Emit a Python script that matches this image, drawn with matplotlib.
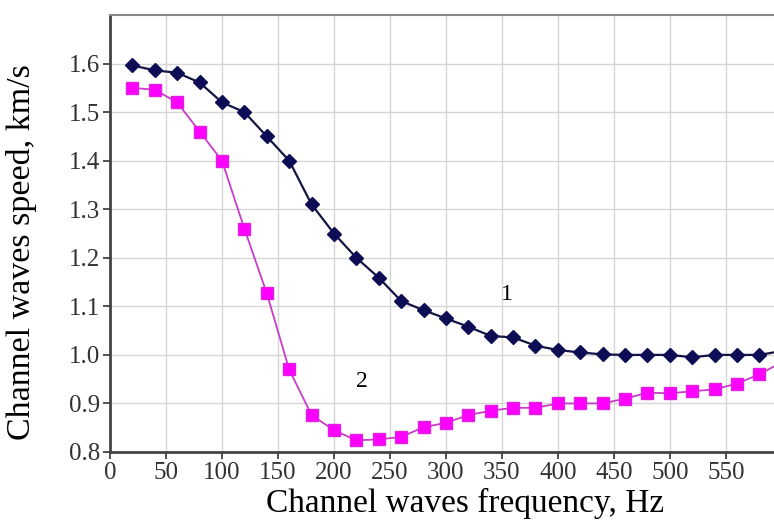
import numpy as np
import matplotlib
matplotlib.use('Agg')
import matplotlib.pyplot as plt

# frequency, Hz
freq = [20, 40, 60, 80, 100, 120, 140, 160, 180, 200, 220, 240, 260, 280, 300,
        320, 340, 360, 380, 400, 420, 440, 460, 480, 500, 520, 540, 560, 580, 600]

# curve 1 (dark diamonds)
speed_1 = [1.596, 1.586, 1.581, 1.561, 1.52, 1.50, 1.45, 1.40, 1.31, 1.25,
           1.20, 1.159, 1.111, 1.092, 1.075, 1.058, 1.039, 1.036, 1.019, 1.01,
           1.005, 1.001, 1.0, 1.0, 1.0, 0.995, 1.0, 1.0, 1.0, 1.008]

# curve 2 (magenta squares)
speed_2 = [1.55, 1.546, 1.52, 1.46, 1.40, 1.26, 1.127, 0.97, 0.876, 0.845,
           0.824, 0.826, 0.831, 0.851, 0.86, 0.876, 0.885, 0.891, 0.891, 0.9,
           0.9, 0.9, 0.91, 0.922, 0.921, 0.925, 0.929, 0.941, 0.96, 0.985]

x_ticks = [0, 50, 100, 150, 200, 250, 300, 350, 400, 450, 500, 550]
y_ticks = [0.8, 0.9, 1.0, 1.1, 1.2, 1.3, 1.4, 1.5, 1.6]

plt.rcParams['font.family'] = ['Liberation Serif', 'DejaVu Serif']

fig = plt.figure(figsize=(7.74, 5.26), dpi=100)
ax = fig.add_axes([110 / 774, 74 / 526, 1 - 110 / 774, (452 - 15) / 526])

ax.plot(freq, speed_1, color='#141444', lw=1.6, marker='D', ms=7,
        mfc='#0d0d55', mec='#0d0d55', zorder=4)
ax.plot(freq, speed_2, color='#c83cc8', lw=1.3, marker='s', ms=8,
        mfc='#ff00ff', mec='#e020e0', zorder=3)

ax.text(354, 1.124, '1', fontsize=17, ha='center', va='center')
ax.text(225, 0.946, '2', fontsize=17, ha='center', va='center')

ax.set_xlim(0, 593)
ax.set_ylim(0.8, 1.7)
ax.set_xticks(x_ticks)
ax.set_yticks(y_ticks)
ax.set_yticklabels(['%.1f' % v for v in y_ticks])
ax.grid(True, color='#d6d6d6', lw=1.0)
ax.set_axisbelow(True)

ax.tick_params(axis='both', labelsize=18, colors='#333333', length=5, width=1.2,
               pad=2)
for s in ['left', 'bottom']:
    ax.spines[s].set_color('#444444')
    ax.spines[s].set_linewidth(2.0)
ax.spines['top'].set_color('#888888')
ax.spines['top'].set_linewidth(1.5)
ax.spines['right'].set_visible(False)

ax.set_xlabel('Channel waves frequency, Hz', fontsize=24)
ax.set_ylabel('Channel waves speed, km/s', fontsize=24.5)
ax.xaxis.set_label_coords(0.535, -0.082)
ax.yaxis.set_label_coords(-0.11, 0.458)

fig.savefig('out.png', dpi=100)
